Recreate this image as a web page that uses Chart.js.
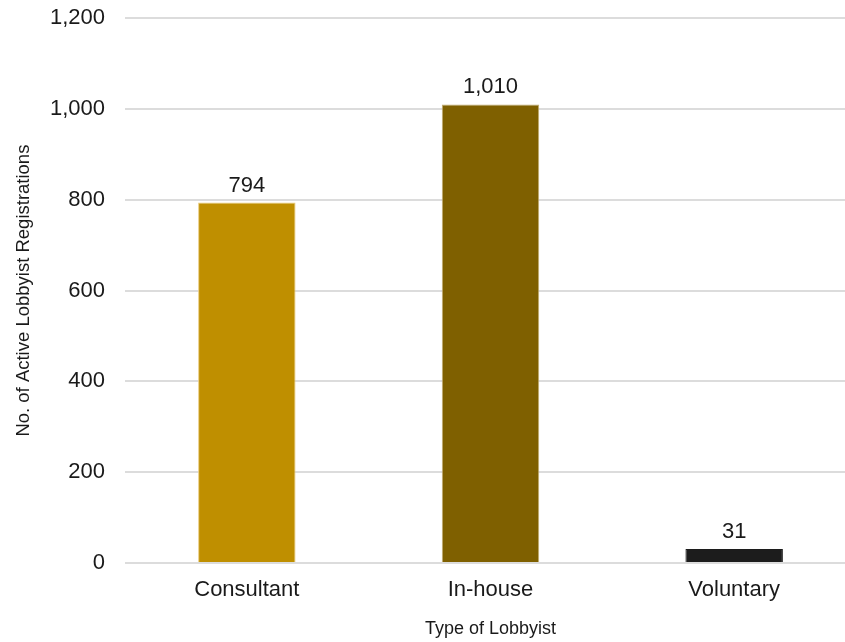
<!DOCTYPE html>
<html>
<head>
<meta charset="utf-8">
<script src="https://cdn.jsdelivr.net/npm/chart.js@4/dist/chart.umd.min.js"></script>
<style>
  html, body { margin: 0; padding: 0; background: #fff; overflow: hidden; }
  #wrap { width: 856px; height: 642px; overflow: hidden; }
  #c { display: block; margin-top: -15px; }
</style>
</head>
<body>
<div id="wrap"><canvas id="c" width="856" height="657"></canvas></div>
<script>
// Active lobbyist registrations by type
const categories = ['Consultant', 'In-house', 'Voluntary'];
const registrations = [794, 1010, 31];
const barColors = ['#BF8F00', '#7F6000', '#1C1C1C'];
const barEdges = ['#E9CB7A', '#C2AD72', '#1C1C1C'];
const yTicks = [0, 200, 400, 600, 800, 1000, 1200];

const fmt = v => v.toLocaleString('en-US');
const FONT = '"Liberation Sans", Arial, sans-serif';

// Draws the value above each bar
const valueLabels = {
  id: 'valueLabels',
  afterDatasetsDraw(chart) {
    const ctx = chart.ctx;
    const meta = chart.getDatasetMeta(0);
    ctx.save();
    ctx.font = '22px ' + FONT;
    ctx.fillStyle = '#1a1a1a';
    ctx.textAlign = 'center';
    ctx.textBaseline = 'alphabetic';
    meta.data.forEach((bar, i) => {
      ctx.fillText(fmt(registrations[i]), bar.x, bar.y - 11);
    });
    ctx.restore();
  }
};

new Chart(document.getElementById('c'), {
  type: 'bar',
  data: {
    labels: categories,
    datasets: [{
      data: registrations,
      backgroundColor: barColors,
      borderColor: barEdges,
      borderWidth: 1,
      barPercentage: 0.4,
      categoryPercentage: 1.0
    }]
  },
  options: {
    responsive: false,
    animation: false,
    layout: { padding: { top: 5, right: 0, bottom: 0, left: 0 } },
    plugins: { legend: { display: false }, tooltip: { enabled: false } },
    scales: {
      x: {
        grid: { display: false, drawTicks: false },
        border: { display: false },
        ticks: {
          color: '#1a1a1a',
          font: { family: FONT, size: 22 },
          padding: 14
        },
        title: {
          display: true,
          text: 'Type of Lobbyist',
          color: '#1a1a1a',
          font: { family: FONT, size: 18 },
          padding: { top: 8, bottom: 2 }
        },
        afterFit(scale) { scale.height = 79; }
      },
      y: {
        min: 0,
        max: 1200,
        afterBuildTicks(scale) { scale.ticks = yTicks.map(v => ({ value: v })); },
        grid: { color: '#DCDCDC', lineWidth: 2, drawTicks: false },
        border: { display: false },
        ticks: {
          color: '#1a1a1a',
          font: { family: FONT, size: 22 },
          padding: 20,
          callback: v => fmt(v)
        },
        title: {
          display: true,
          text: 'No. of Active Lobbyist Registrations',
          color: '#1a1a1a',
          font: { family: FONT, size: 18.5 },
          padding: { top: 13, bottom: 0 }
        },
        afterFit(scale) { scale.width = 125; }
      }
    }
  },
  plugins: [valueLabels]
});
</script>
</body>
</html>
